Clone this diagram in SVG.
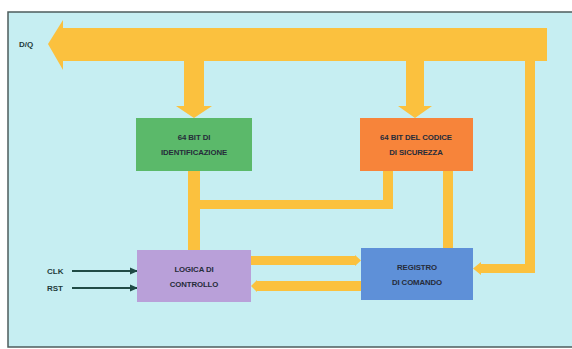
<svg xmlns="http://www.w3.org/2000/svg" width="572" height="349" viewBox="0 0 572 349">
<defs>
<style>
.bus{fill:#fbc13e}
.lbl{font-family:"Liberation Sans",Arial,sans-serif;font-weight:bold;font-size:7.8px;fill:#262c3a;text-anchor:middle;letter-spacing:-0.1px}
.sig{font-family:"Liberation Sans",Arial,sans-serif;font-weight:bold;font-size:8px;fill:#1f3c3a}
.wire{stroke:#1f4a45;stroke-width:2;fill:none;marker-end:url(#ah)}
</style>
<marker id="ah" markerWidth="8" markerHeight="8" refX="7" refY="4" orient="auto" markerUnits="userSpaceOnUse">
<path d="M0,0.5 L8,4 L0,7.5 Z" fill="#1f4a45"/>
</marker>
</defs>
<rect x="0" y="0" width="572" height="349" fill="#ffffff"/>
<rect x="8" y="12" width="600" height="335" fill="#c6eef2" stroke="#4d5c5c" stroke-width="1.5"/>
<text class="sig" x="19" y="47">D/Q</text>
<g id="connectors">
<polygon class="bus" points="48,44 63,20 63,28 547,28 547,61 63,61 63,70"/>
<polygon class="bus" points="184,61 204,61 204,106 212,106 194,118 176,106 184,106"/>
<polygon class="bus" points="406,61 424,61 424,106 432,106 415,118 398,106 406,106"/>
<polygon class="bus" points="525,61 535,61 535,273 481,273 481,275 473,268.5 481,262 481,264 525,264"/>
<polygon class="bus" points="188,171 200,171 200,200 383,200 383,171 393,171 393,209 200,209 200,250 188,250"/>
<rect class="bus" x="443" y="171" width="10" height="77"/>
<polygon class="bus" points="251,256 355,256 355,255 361,260.5 355,266 355,265 251,265"/>
<polygon class="bus" points="361,281 257,281 257,280 251,286 257,292 257,291 361,291"/>
<path class="wire" d="M72,271 H137"/>
<path class="wire" d="M72,288 H137"/>
</g>
<g id="node-id">
<rect x="136" y="118" width="116" height="53" fill="#5bb96a"/>
<text class="lbl" x="194" y="140">64 BIT DI</text>
<text class="lbl" x="194" y="155">IDENTIFICAZIONE</text>
</g>
<g id="node-codice">
<rect x="360" y="118" width="113" height="53" fill="#f7843a"/>
<text class="lbl" x="416" y="140">64 BIT DEL CODICE</text>
<text class="lbl" x="416" y="155">DI SICUREZZA</text>
</g>
<g id="node-logica">
<rect x="137" y="250" width="114" height="52" fill="#b9a0d9"/>
<text class="lbl" x="194" y="272">LOGICA DI</text>
<text class="lbl" x="194" y="287">CONTROLLO</text>
</g>
<g id="node-registro">
<rect x="361" y="248" width="112" height="52" fill="#5e90d8"/>
<text class="lbl" x="417" y="270">REGISTRO</text>
<text class="lbl" x="417" y="285">DI COMANDO</text>
</g>
<text class="sig" x="47" y="274">CLK</text>
<text class="sig" x="47" y="291">RST</text>
</svg>
